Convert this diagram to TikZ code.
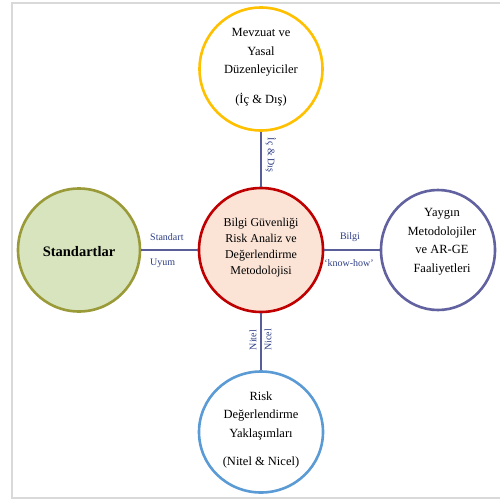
\documentclass[tikz,border=0pt]{standalone}
\usepackage{fontspec}
\setmainfont{Liberation Serif}
\usetikzlibrary{shapes.geometric}
\definecolor{frameg}{HTML}{D9D9D9}
\definecolor{linec}{HTML}{5A5E98}
\definecolor{labc}{HTML}{2F3F86}
\definecolor{goldc}{HTML}{FFC000}
\definecolor{redc}{HTML}{C00000}
\definecolor{peach}{HTML}{FBE3D6}
\definecolor{olivec}{HTML}{9A9A38}
\definecolor{greenf}{HTML}{D7E4BD}
\definecolor{purpc}{HTML}{6262A0}
\definecolor{bluec}{HTML}{5B9BD5}
\begin{document}
\begin{tikzpicture}[x=1pt,y=-1pt,
  ring/.style={ellipse,line width=2.6pt,inner sep=0pt},
  txt/.style={align=center,font=\fontsize{12.5}{18.5}\selectfont},
  ctxt/.style={align=center,font=\fontsize{12}{16}\selectfont},
  conn/.style={draw=linec,line width=1.3pt},
  elab/.style={font=\fontsize{10}{12}\selectfont,text=labc,inner sep=0pt}]
\useasboundingbox (0,0) rectangle (500,501);
% frame
\draw[frameg,line width=2pt] (500,3) -- (12,3) -- (12,498) -- (500,498);
% circles
\node[ring,draw=goldc,fill=white,minimum width=123pt,minimum height=123pt] (top) at (261,69) {};
\node[ring,draw=redc,fill=peach,minimum width=124pt,minimum height=124pt] (mid) at (261,250) {};
\node[ring,draw=olivec,fill=greenf,minimum width=122pt,minimum height=123pt] (lft) at (79,250) {};
\node[ring,draw=purpc,fill=white,minimum width=114pt,minimum height=120pt] (rgt) at (438,250) {};
\node[ring,draw=bluec,fill=white,minimum width=124pt,minimum height=121pt] (bot) at (261,432) {};
% connectors
\draw[conn] (top.south) -- (mid.north);
\draw[conn] (lft.east) -- (mid.west);
\draw[conn] (mid.east) -- (rgt.west);
\draw[conn] (mid.south) -- (bot.north);
% texts
\node[txt] (toptxt) at (261,67) {Mevzuat ve\\Yasal\\Düzenleyiciler\\[11pt](İç \& Dış)};
\node[ctxt] (midtxt) at (261,248) {Bilgi Güvenliği\\Risk Analiz ve\\Değerlendirme\\Metodolojisi};
\node[font=\fontsize{14.5}{17}\selectfont\bfseries] (lfttxt) at (79,252) {Standartlar};
\node[txt] (rgttxt) at (442,242) {Yaygın\\Metodolojiler\\ve AR-GE\\Faaliyetleri};
\node[txt] (bottxt) at (261,430) {Risk\\Değerlendirme\\Yaklaşımları\\[10pt](Nitel \& Nicel)};
% edge labels
\node[elab,rotate=-90] (l1) at (271,155) {İç \& Dış};
\node[elab,anchor=west] (l2) at (150,237) {Standart};
\node[elab,anchor=west] (l3) at (150,263) {Uyum};
\node[elab] (l4) at (350,237) {Bilgi};
\node[elab] (l5) at (349,263) {‘know-how’};
\node[elab,rotate=90] (l6) at (253,340) {Nitel};
\node[elab,rotate=90] (l7) at (268,340) {Nicel};
\end{tikzpicture}
\end{document}
